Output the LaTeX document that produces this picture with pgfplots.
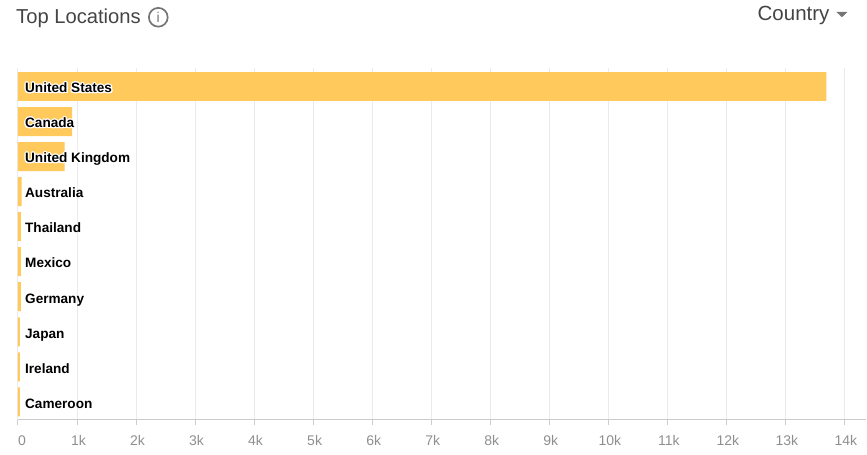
\documentclass[border=0pt]{standalone}
\usepackage{fontspec}
\setmainfont{Liberation Sans}
\usepackage{pgfplots}
\pgfplotsset{compat=1.18}
\usepackage{pgfplotstable}
\usepackage{contour}
\contourlength{1.1pt}
\contournumber{24}

\definecolor{barcol}{HTML}{FFCA5B}
\definecolor{gridcol}{HTML}{EBEBEB}
\definecolor{axiscol}{HTML}{CCCCCC}
\definecolor{ticktext}{HTML}{8F8F8F}
\definecolor{titletext}{HTML}{444444}
\definecolor{icongray}{HTML}{757575}

\pgfplotstableread{
idx value
0 13695
1 915
2 790
3 60
4 50
5 50
6 50
7 30
8 30
9 30
}\locations

\begin{document}
\begin{tikzpicture}[x=1bp,y=1bp]
\path (0,0) rectangle (867,455);
\begin{axis}[
    set layers,
    at={(18bp,35bp)},
    anchor=south west,
    scale only axis,
    width=849bp,
    height=352bp,
    xmin=0, xmax=14373,
    ymin=-0.53, ymax=9.51,
    y dir=reverse,
    scaled x ticks=false,
    xtick pos=bottom,
    ytick pos=left,
    xtick={0,1000,...,14000},
    xticklabels={\hspace*{5bp}0,1k,2k,3k,4k,5k,6k,7k,8k,9k,10k,11k,12k,13k,14k},
    ytick={0,...,9},
    yticklabels={\contour{white}{United States},\contour{white}{Canada},\contour{white}{United Kingdom},Australia,Thailand,Mexico,Germany,Japan,Ireland,Cameroon},
    y tick style={draw=none},
    tick align=outside,
    major tick length=5bp,
    xmajorgrids,
    grid style={gridcol,line width=1bp},
    x tick style={axiscol,line width=1bp},
    axis line style={draw=none},
    xticklabel style={font=\fontsize{14bp}{14bp}\selectfont,text=ticktext,yshift=-7.5bp,xshift=1.5bp},
    yticklabel style={/pgfplots/on layer=axis foreground,font=\fontsize{13.6bp}{14bp}\selectfont\bfseries,text=black,anchor=west,xshift=12bp,yshift=-2.8bp,inner xsep=0pt,text height=10bp,text depth=3bp},
    /pgf/number format/assume math mode=true,
    clip=false,
]
\addplot[xbar,bar width=29bp,bar shift=0pt,fill=barcol,draw=none] table[x=value,y=idx] {\locations};
\end{axis}
\draw[axiscol,line width=1.2bp] (18,35) -- (867,35);
\node[anchor=base west,inner sep=0pt,text=titletext,font=\fontsize{20.2bp}{20bp}\selectfont] at (16,431) {Top Locations};
\draw[icongray,line width=1.7bp] (158.4,437.7) circle (9.4);
\node[text=icongray,font=\fontsize{14bp}{14bp}\selectfont,inner sep=0pt] at (158.4,437.7) {i};
\node[anchor=base west,inner sep=0pt,text=titletext,font=\fontsize{20.5bp}{20bp}\selectfont] at (758,434.5) {Country};
\fill[icongray] (837,443) -- (848,443) -- (842.5,437.7) -- cycle;
\end{tikzpicture}
\end{document}
